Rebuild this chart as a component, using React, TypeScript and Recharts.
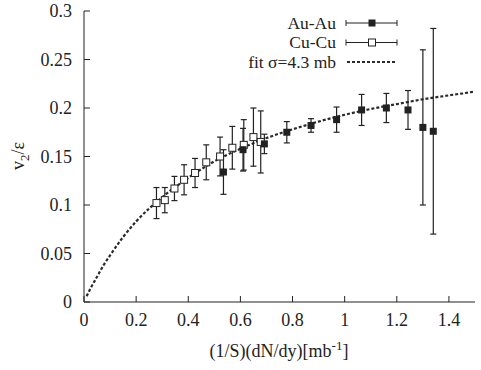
import { ComposedChart, Line, Scatter, ErrorBar, XAxis, YAxis } from "recharts";

const auX = [0.535, 0.61, 0.692, 0.778, 0.871, 0.969, 1.065, 1.16, 1.243, 1.3, 1.34];
const auY = [0.134, 0.157, 0.163, 0.175, 0.182, 0.188, 0.198, 0.2, 0.198, 0.18, 0.176];
const auErr = [0.023, 0.022, 0.01, 0.011, 0.007, 0.013, 0.016, 0.015, 0.02, 0.08, 0.106];

const cuX = [0.278, 0.31, 0.347, 0.384, 0.426, 0.469, 0.522, 0.569, 0.613, 0.65, 0.678];
const cuY = [0.102, 0.105, 0.117, 0.126, 0.133, 0.144, 0.15, 0.159, 0.162, 0.17, 0.165];
const cuErr = [0.016, 0.013, 0.0125, 0.0155, 0.015, 0.018, 0.02, 0.022, 0.026, 0.03, 0.032];

// fit curve
const fitX = [0.01, 0.025, 0.05, 0.075, 0.1, 0.15, 0.2, 0.3, 0.4, 0.5, 0.6, 0.7, 0.8, 0.9, 1.0, 1.1, 1.2, 1.3, 1.4, 1.5];
const fitY = [0.006, 0.014, 0.026, 0.038, 0.048, 0.067, 0.083, 0.108, 0.128, 0.145, 0.158, 0.169, 0.178, 0.186, 0.193, 0.199, 0.204, 0.209, 0.213, 0.217];

const xTicks = [0, 0.2, 0.4, 0.6, 0.8, 1, 1.2, 1.4];
const yTicks = [0, 0.05, 0.1, 0.15, 0.2, 0.25, 0.3];

const auData = auX.map((x, i) => ({ x, y: auY[i], err: auErr[i] }));
const cuData = cuX.map((x, i) => ({ x, y: cuY[i], err: cuErr[i] }));
const fitData = fitX.map((x, i) => ({ x, y: fitY[i] }));

const font = '"Liberation Serif", serif';
const ink = "#222";

const FilledSquare = (p: any) => (
  <rect x={p.cx - 3.5} y={p.cy - 3.5} width={7} height={7} fill={ink} />
);
const OpenSquare = (p: any) => (
  <rect x={p.cx - 3.5} y={p.cy - 3.5} width={7} height={7} fill="#fff" stroke={ink} strokeWidth={1} />
);

const tickStyle = { fontFamily: font, fontSize: 18, fill: ink };

export default function App() {
  return (
    <div style={{ position: "absolute", left: 0, top: 0, width: 481, height: 370, background: "#fff" }}>
      <ComposedChart width={481} height={370} margin={{ top: 11, right: 6, bottom: 0, left: 0 }}>
        <XAxis
          xAxisId="bottom"
          dataKey="x"
          type="number"
          domain={[0, 1.5]}
          ticks={xTicks}
          allowDataOverflow
          height={68}
          tickSize={-6}
          tickMargin={17}
          tick={tickStyle}
          stroke={ink}
          tickFormatter={(v) => String(v)}
        />
        <XAxis
          xAxisId="top"
          orientation="top"
          dataKey="x"
          type="number"
          domain={[0, 1.5]}
          ticks={xTicks}
          allowDataOverflow
          height={0}
          tickSize={-6}
          tick={false}
          stroke={ink}
        />
        <YAxis
          yAxisId="left"
          type="number"
          domain={[0, 0.3]}
          ticks={yTicks}
          allowDataOverflow
          width={84}
          tickSize={-6}
          tickMargin={18}
          tick={tickStyle}
          stroke={ink}
          tickFormatter={(v) => String(v)}
        />
        <YAxis
          yAxisId="right"
          orientation="right"
          type="number"
          domain={[0, 0.3]}
          ticks={yTicks}
          allowDataOverflow
          width={0}
          tickSize={-6}
          tick={false}
          stroke={ink}
        />
        <Line
          xAxisId="bottom"
          yAxisId="left"
          data={fitData}
          dataKey="y"
          type="monotone"
          stroke="#2a2a2a"
          strokeWidth={2.2}
          strokeDasharray="3 2"
          dot={false}
          isAnimationActive={false}
        />
        <Line
          xAxisId="top"
          yAxisId="right"
          data={fitData}
          dataKey="y"
          stroke="none"
          dot={false}
          isAnimationActive={false}
        />
        <Scatter xAxisId="bottom" yAxisId="left" data={cuData} dataKey="y" shape={OpenSquare} isAnimationActive={false}>
          <ErrorBar dataKey="err" direction="y" width={3} stroke={ink} strokeWidth={1.2} />
        </Scatter>
        <Scatter xAxisId="bottom" yAxisId="left" data={auData} dataKey="y" shape={FilledSquare} isAnimationActive={false}>
          <ErrorBar dataKey="err" direction="y" width={3} stroke={ink} strokeWidth={1.2} />
        </Scatter>
      </ComposedChart>
      <svg
        width={481}
        height={370}
        style={{ position: "absolute", left: 0, top: 0, pointerEvents: "none" }}
        fontFamily={font}
        fontSize={18}
        fill={ink}
      >
        {/* legend */}
        <g fontSize={17.5}>
          <text x={336} y={28.5} textAnchor="end">Au-Au</text>
          <line x1={346} x2={397} y1={23} y2={23} stroke={ink} />
          <line x1={346} x2={346} y1={20} y2={26} stroke={ink} />
          <line x1={397} x2={397} y1={20} y2={26} stroke={ink} />
          <rect x={368.5} y={19.5} width={7} height={7} fill={ink} />
          <text x={336} y={48} textAnchor="end">Cu-Cu</text>
          <line x1={346} x2={397} y1={42.5} y2={42.5} stroke={ink} />
          <line x1={346} x2={346} y1={39.5} y2={45.5} stroke={ink} />
          <line x1={397} x2={397} y1={39.5} y2={45.5} stroke={ink} />
          <rect x={368.5} y={39} width={7} height={7} fill="#fff" stroke={ink} />
          <text x={336} y={67.5} textAnchor="end">fit σ=4.3 mb</text>
          <line x1={347} x2={396} y1={62} y2={62} stroke="#2a2a2a" strokeWidth={2.2} strokeDasharray="3 2" />
        </g>
        {/* axis titles */}
        <text x={279} y={357} textAnchor="middle">
          (1/S)(dN/dy)[mb<tspan dy={-7} fontSize={13}>-1</tspan><tspan dy={7}>]</tspan>
        </text>
        <text transform="translate(24,156) rotate(-90)" textAnchor="middle">
          v<tspan dy={5} fontSize={13}>2</tspan><tspan dy={-5}>/ε</tspan>
        </text>
      </svg>
    </div>
  );
}
